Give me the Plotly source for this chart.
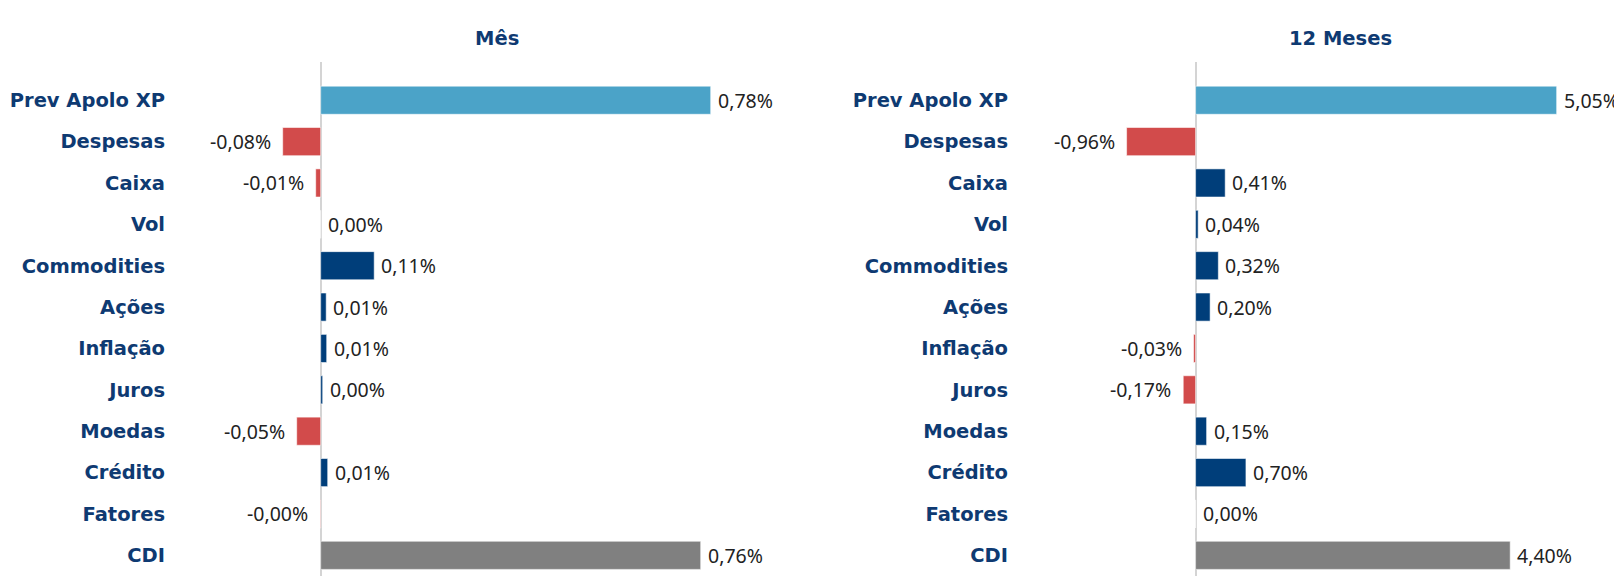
import plotly.graph_objects as go

# reference frame size and the page's default body margin
REF_W, REF_H = 1622, 576
OFF = 8
W, H = REF_W - OFF, REF_H - OFF

categories = ["Prev Apolo XP", "Despesas", "Caixa", "Vol", "Commodities", "Ações",
              "Inflação", "Juros", "Moedas", "Crédito", "Fatores", "CDI"]
mes_values = [0.78, -0.076, -0.010, 0.0, 0.107, 0.011, 0.012, 0.004, -0.048, 0.014, -0.001, 0.76]
m12_values = [5.05, -0.965, 0.414, 0.036, 0.318, 0.203, -0.028, -0.173, 0.154, 0.704, 0.0, 4.40]
panel_titles = ["Mês", "12 Meses"]

NAVY = "#0E3A72"
C_FUND = "#4BA3C8"
C_CDI = "#808080"
C_POS = "#003E7A"
C_NEG = "#D24B4B"


def bar_colors(vals):
    cols = []
    for c, v in zip(categories, vals):
        if c == "Prev Apolo XP":
            cols.append(C_FUND)
        elif c == "CDI":
            cols.append(C_CDI)
        else:
            cols.append(C_NEG if v < 0 else C_POS)
    return cols


def fmt(v):
    return f"{v:.2f}".replace(".", ",") + "%"


def px_x(x_ref):
    return (x_ref - OFF) / W


def px_y(y_ref):
    return (H - (y_ref - OFF)) / H


fig = go.Figure()

# pixel geometry (reference coordinates)
top_px = 62
y_dom = [0, px_y(top_px)]
row_px = 41.37
y_range = [len(categories) - 0.5, -(100.2 - top_px) / row_px]

L_dom_px = [172, 812]
L_zero = 320.7
L_scale = 500.0
L_range = [(L_dom_px[0] - L_zero) / L_scale, (L_dom_px[1] - L_zero) / L_scale]

R_dom_px = [1015, REF_W]
R_zero = 1195.6
R_scale = 71.5
R_range = [(R_dom_px[0] - R_zero) / R_scale, (R_dom_px[1] - R_zero) / R_scale]

for vals, xa, ya in [(mes_values, "x", "y"), (m12_values, "x2", "y2")]:
    fig.add_trace(go.Bar(
        x=vals, y=categories, orientation="h", xaxis=xa, yaxis=ya,
        marker=dict(color=bar_colors(vals), line=dict(color="rgba(255,255,255,0.55)", width=1)),
        width=0.68, showlegend=False, hoverinfo="x+y",
    ))

annotations = []
for vals, xr, yr in [(mes_values, "x", "y"), (m12_values, "x2", "y2")]:
    for c, v in zip(categories, vals):
        annotations.append(dict(
            x=v, y=c, xref=xr, yref=yr, text=fmt(v), showarrow=False,
            xanchor="left" if v >= 0 else "right", yanchor="middle",
            xshift=6 if v >= 0 else -11, borderpad=0,
            font=dict(family="Noto Sans", size=19.5, color="#222222"),
        ))

title_x = [px_x(497), px_x(1340.5)]
for t, tx in zip(panel_titles, title_x):
    annotations.append(dict(
        x=tx, y=px_y(39), xref="paper", yref="paper", text=f"<b>{t}</b>",
        showarrow=False, xanchor="center", yanchor="middle",
        font=dict(family="DejaVu Sans", size=19.5, color=NAVY),
    ))

xcommon = dict(showgrid=False, showticklabels=False, zeroline=True,
               zerolinecolor="#D4D4D4", zerolinewidth=1.5, showline=False, ticks="")
ycommon = dict(showgrid=False, showline=False, zeroline=False, ticks="",
               categoryorder="array", categoryarray=categories, range=y_range,
               ticklabelstandoff=6,
               tickfont=dict(family="DejaVu Sans", size=19.5, color=NAVY, weight="bold"),
               domain=y_dom)

fig.update_layout(
    width=W, height=H,
    margin=dict(l=0, r=0, t=0, b=0),
    paper_bgcolor="white", plot_bgcolor="white",
    xaxis=dict(domain=[px_x(L_dom_px[0]), px_x(L_dom_px[1])], range=L_range, anchor="y", **xcommon),
    yaxis=dict(anchor="x", **ycommon),
    xaxis2=dict(domain=[px_x(R_dom_px[0]), px_x(R_dom_px[1])], range=R_range, anchor="y2", **xcommon),
    yaxis2=dict(anchor="x2", **ycommon),
    annotations=annotations,
    bargap=0.32,
)

fig.write_html("out.html")
